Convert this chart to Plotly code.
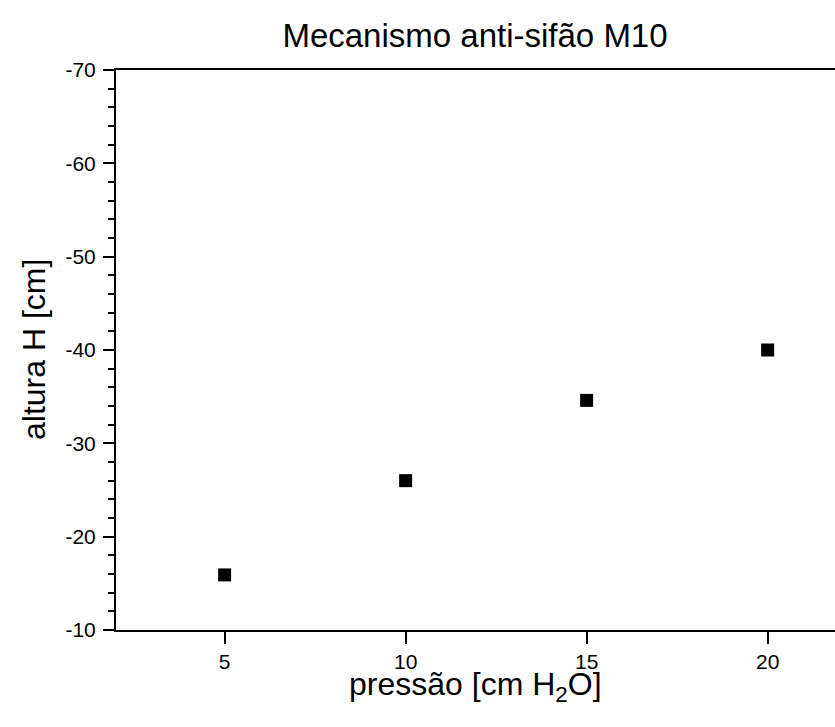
import plotly.graph_objects as go

pressao = [5, 10, 15, 20]
altura = [-15.9, -26.0, -34.6, -40.0]
x_ticks = [5, 10, 15, 20]
y_ticks = [-70, -60, -50, -40, -30, -20, -10]
y_ticklabels = ["-70", "-60", "-50", "-40", "-30", "-20", "-10"]

W, H = 835, 727
L, R, T, B = 116, 0, 70, 97
pw, ph = W - L - R, H - T - B

fig = go.Figure()
fig.add_trace(go.Scatter(
    x=pressao, y=altura, mode="markers",
    marker=dict(symbol="square", size=13, color="black"),
    showlegend=False,
))

font = "Liberation Sans, Arial, sans-serif"
fig.update_layout(
    width=W, height=H,
    margin=dict(l=L, r=R, t=T, b=B, autoexpand=False),
    paper_bgcolor="white", plot_bgcolor="white",
    font=dict(family=font, color="black"),
    title=dict(text="Mecanismo anti-sifão M10", x=475 / W, xref="container", xanchor="center",
               y=1 - 35 / H, yref="container", yanchor="middle", font=dict(size=33, family=font),
               automargin=False),
)
fig.update_xaxes(
    range=[2, 21.86], tickvals=x_ticks, ticks="outside", ticklen=12, tickwidth=2,
    tickcolor="black", showline=True, linecolor="black", linewidth=2,
    mirror=True, showgrid=False, zeroline=False, automargin=False,
    tickfont=dict(size=21, family=font),
)
fig.update_yaxes(
    range=[-10, -70], tickvals=y_ticks, ticktext=y_ticklabels, ticks="outside", ticklen=11, tickwidth=2,
    tickcolor="black", showline=True, linecolor="black", linewidth=2,
    mirror=False, showgrid=False, zeroline=False, automargin=False,
    minor=dict(dtick=2, ticks="outside", ticklen=6, tickwidth=2, tickcolor="black", showgrid=False),
    tickfont=dict(size=21, family=font), ticklabelstandoff=3,
)
fig.add_annotation(text="pressão [cm H<sub>2</sub>O]", xref="paper", yref="paper",
                   x=(475 - L) / pw, y=-(686 - T - ph) / ph, xanchor="center", yanchor="middle",
                   showarrow=False, font=dict(size=32, family=font))
fig.add_annotation(text="altura H [cm]", xref="paper", yref="paper", textangle=-90,
                   x=(34 - L) / pw, y=0.5, xanchor="center", yanchor="middle",
                   showarrow=False, font=dict(size=32, family=font))
fig.write_html("out.html", config={"displayModeBar": False},
               post_script="document.body.style.margin='0';document.body.style.overflow='hidden';")
